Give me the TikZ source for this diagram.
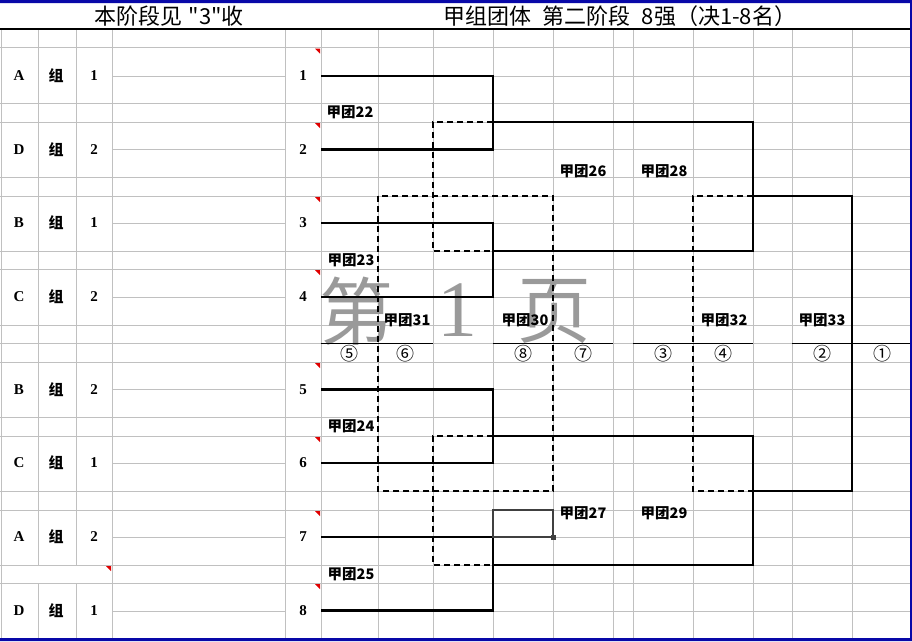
\documentclass[tikz,border=0pt]{standalone}
\usepackage{fontspec}
\setmainfont{Liberation Serif}
\newfontfamily\cjk{Noto Sans CJK SC}
\usetikzlibrary{positioning, calc}
\definecolor{gridgray}{HTML}{C0C0C0}
\definecolor{frameblue}{HTML}{0808A8}
\definecolor{markred}{HTML}{E00000}
\definecolor{stampgray}{HTML}{9A9A9A}
\definecolor{selgray}{HTML}{404040}

\begin{document}
\begin{tikzpicture}[x=1pt, y=-1pt,
    gridline/.style={draw=gridgray, line width=0.8pt},
    rule/.style={draw=black, line width=1pt},
    bracket/.style={draw=black, line width=2.2pt, line join=miter},
    loser/.style={draw=black, line width=2.2pt, dash pattern=on 6pt off 4pt},
    cell/.style={font=\fontsize{15}{15}\selectfont\bfseries, inner sep=0pt},
    zu/.style={font=\cjk\fontsize{15}{15}\selectfont\bfseries, inner sep=0pt},
    team/.style={font=\cjk\fontsize{14.5}{14.5}\selectfont\bfseries, inner sep=0pt},
    place/.style={font=\cjk\fontsize{18}{18}\selectfont, inner sep=0pt},
    heading/.style={font=\cjk\fontsize{22}{22}\selectfont, inner sep=0pt},
    stamp/.style={text=stampgray, inner sep=0pt},
]
\useasboundingbox (0,0) rectangle (912,641);

% sheet grid
\foreach \gy in {47.5,76,103,122,149.5,177,196,223,251,269,297,325,343,362,389.5,417,436,463,491,510,537,565,583,611}
  \draw[gridline] (321,\gy) -- (910,\gy) (112,\gy) -- (285,\gy);
\foreach \gy in {47.5,103,122,177,196,251,269,325,343,362,417,436,491,510,565,583}
  \draw[gridline] (0,\gy) -- (112,\gy) (285,\gy) -- (321,\gy);
\foreach \gx in {1,112,285,321,378,433,493,553,613,633,693,753,792,852}
  \draw[gridline] (\gx,29) -- (\gx,638);
\foreach \gx in {38,76}
  \draw[gridline] (\gx,29) -- (\gx,565) (\gx,583) -- (\gx,638);

% comment markers
\foreach \ry in {47.5,122,196,269,362,436,510,583}
  \fill[markred] (315,\ry+1) -- (320,\ry+1) -- (320,\ry+6) -- cycle;
\fill[markred] (106,566) -- (111,566) -- (111,571) -- cycle;

% frame and titles
\draw[rule, line width=1.2pt] (0,29) -- (910,29);
\fill[frameblue] (0,0) rectangle (912,3) (910,0) rectangle (912,641) (0,638) rectangle (912,641);
\node[heading] (title1) at (169,16) {本阶段见\hspace{0.3em}"3"收};
\node[heading] (title2) at (620,16) {甲组团体\hspace{0.5em}第二阶段\hspace{0.5em}8强（决1-8名）};

% page stamp
\node[stamp, font=\cjk\fontsize{74}{74}\selectfont] (page1) at (356,311) {第};
\node[stamp, font=\fontsize{80}{80}\selectfont] (page2) at (457,310) {1};
\node[stamp, font=\cjk\fontsize{74}{74}\selectfont] (page3) at (554,312) {页};

% entries
\foreach \i/\y/\g/\r in {1/76/A/1, 2/149.5/D/2, 3/223/B/1, 4/297/C/2, 5/389.5/B/2, 6/463/C/1, 7/537/A/2, 8/610.5/D/1} {
  \node[cell] (grp\i) at (19,\y) {\g};
  \node[zu] (zu\i) at (56,\y) {组};
  \node[cell] (rank\i) at (94,\y) {\r};
  \node[cell] (seed\i) at (303,\y) {\i};
  \coordinate (e\i) at (321,\y);
}

\coordinate (j12) at (493,122);
\coordinate (j34) at (493,251);
\coordinate (j56) at (493,436);
\coordinate (j78) at (493,565);
\coordinate (s1) at (753,196);
\coordinate (s2) at (753,491);
\coordinate (f) at (852,343);
\coordinate (l1) at (433,186);
\coordinate (l2) at (433,500);
\coordinate (l3) at (693,343);
\coordinate (r1) at (378,196);
\coordinate (r2) at (553,491);

% main draw
\foreach \a/\b/\j in {1/2/j12, 3/4/j34, 5/6/j56, 7/8/j78}
  \draw[bracket] (e\a) -| (\j) |- (e\b);
\draw[bracket] (j12) -| (s1) |- (j34);
\draw[bracket] (j56) -| (s2) |- (j78);
\draw[bracket] (s1) -| (f) |- (s2);

% placing matches
\draw[loser] (j12) -| (l1) |- (j34);
\draw[loser] (j56) -| (l2) |- (j78);
\draw[loser] (r1) rectangle (r2);
\draw[loser] (s1) -| (l3) |- (s2);

% place row
\draw[rule] (321,343) -- (433,343) (493,343) -- (613,343) (633,343) -- (753,343) (792,343) -- (f) -- (910,343);
\foreach \px/\pl [count=\k] in {349/⑤, 405/⑥, 523/⑧, 583/⑦, 663/③, 723/④, 822/②, 882/①}
  \node[place] (place\k) at (\px,354) {\pl};

% match labels
\node[team] (t22) at (350,112) {甲团22};
\node[team] (t23) at (351,260) {甲团23};
\node[team] (t24) at (351,426) {甲团24};
\node[team] (t25) at (351,574) {甲团25};
\node[team] (t26) at (583,171) {甲团26};
\node[team] (t28) at (664,171) {甲团28};
\node[team] (t31) at (407,320) {甲团31};
\node[team] (t30) at (525,320) {甲团30};
\node[team] (t32) at (724,320) {甲团32};
\node[team] (t33) at (822,320) {甲团33};
\node[team] (t27) at (583,513) {甲团27};
\node[team] (t29) at (664,513) {甲团29};

% selected cell
\draw[selgray, line width=2pt] (493,510) rectangle (553,537);
\fill[selgray] (550.5,534.5) rectangle (556,540);

\end{tikzpicture}
\end{document}
